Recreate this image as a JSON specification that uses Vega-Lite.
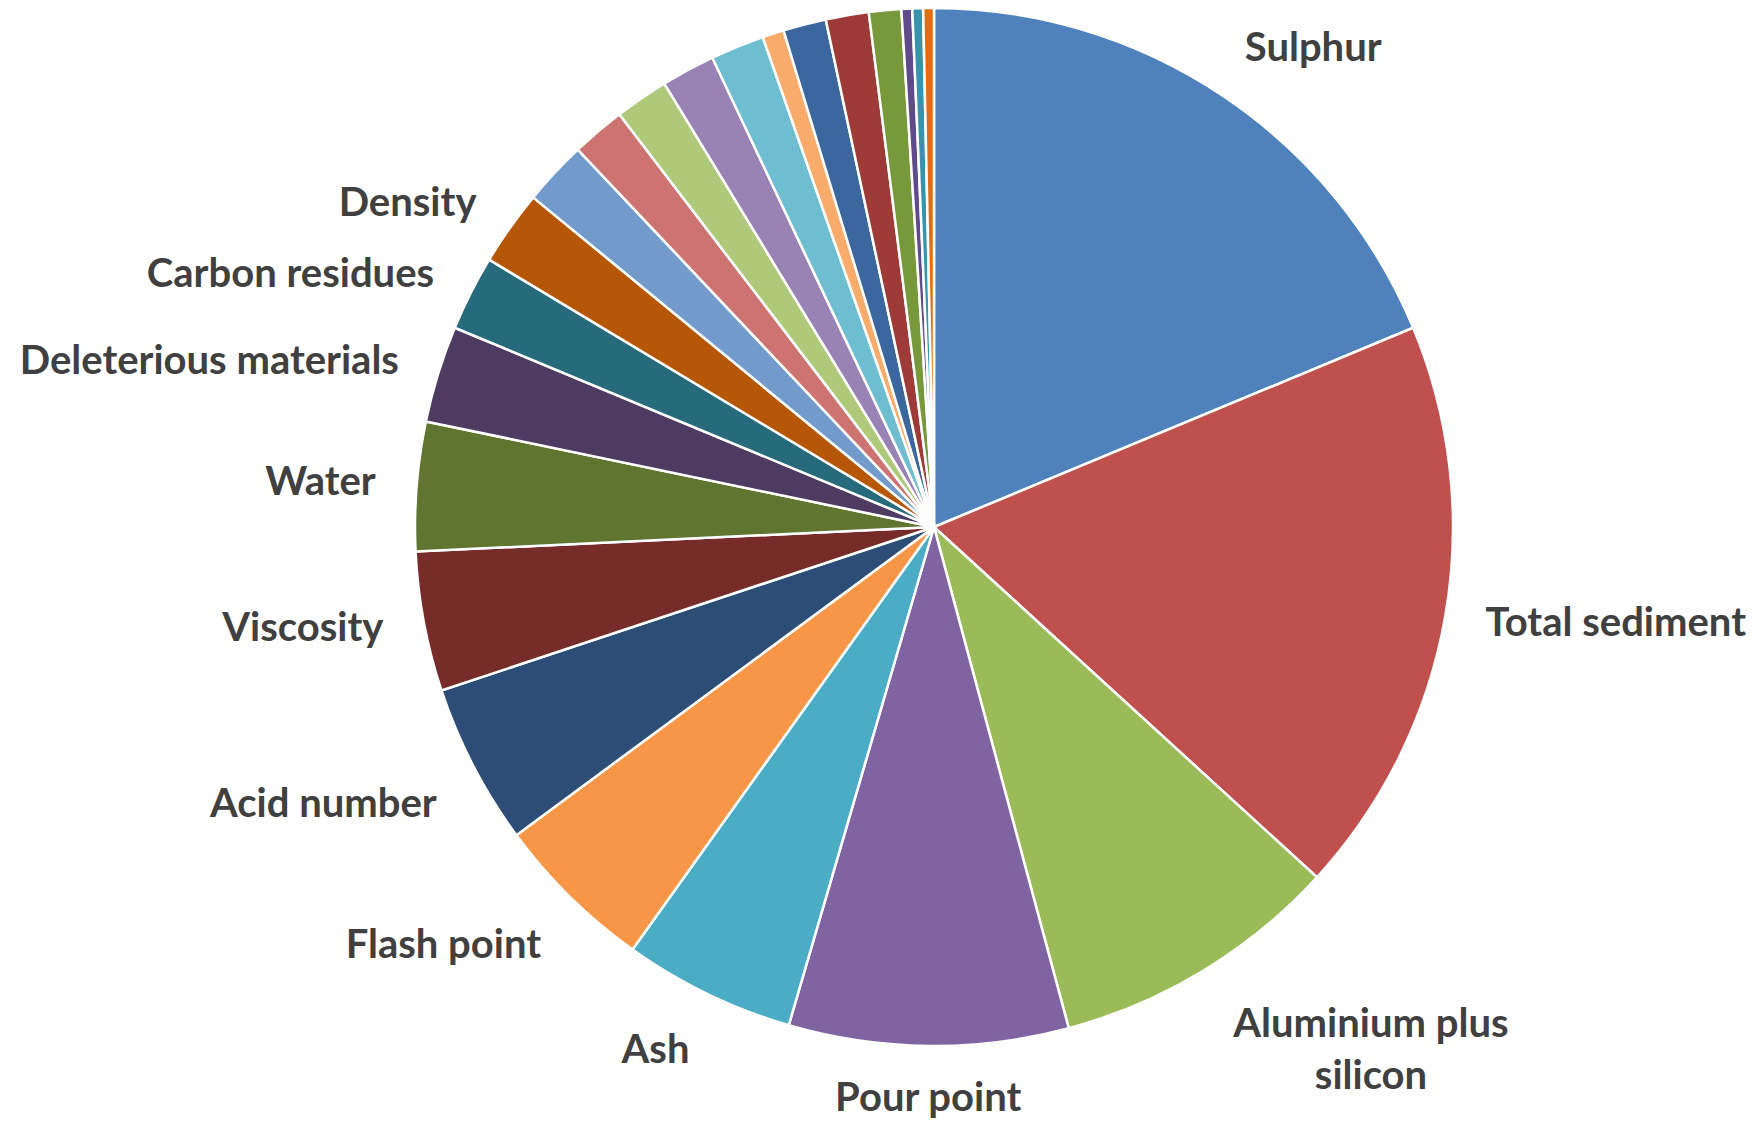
{
  "$schema": "https://vega.github.io/schema/vega-lite/v6.json",
  "width": 1038,
  "height": 1038,
  "autosize": {"type": "none"},
  "padding": {"left": 415, "top": 8, "right": 302, "bottom": 78},
  "background": "white",
  "config": {"view": {"stroke": null}},
  "data": {
    "values": [
      {"category": "Sulphur", "count": 56},
      {"category": "Total sediment", "count": 54},
      {"category": "Aluminium plus\nsilicon", "count": 27},
      {"category": "Pour point", "count": 26},
      {"category": "Ash", "count": 16},
      {"category": "Flash point", "count": 15},
      {"category": "Acid number", "count": 15},
      {"category": "Viscosity", "count": 13},
      {"category": "Water", "count": 12},
      {"category": "Deleterious materials", "count": 9},
      {"category": "Carbon residues", "count": 7},
      {"category": "Density", "count": 7},
      {"category": "Unlabelled 1", "count": 6},
      {"category": "Unlabelled 2", "count": 5},
      {"category": "Unlabelled 3", "count": 5},
      {"category": "Unlabelled 4", "count": 5},
      {"category": "Unlabelled 5", "count": 5},
      {"category": "Unlabelled 6", "count": 2},
      {"category": "Unlabelled 7", "count": 4},
      {"category": "Unlabelled 8", "count": 4},
      {"category": "Unlabelled 9", "count": 3},
      {"category": "Unlabelled 10", "count": 1},
      {"category": "Unlabelled 11", "count": 1},
      {"category": "Unlabelled 12", "count": 1}
    ]
  },
  "transform": [{"window": [{"op": "row_number", "as": "seq"}]}],
  "encoding": {
    "theta": {"field": "count", "type": "quantitative", "stack": true},
    "order": {"field": "seq", "type": "quantitative"}
  },
  "layer": [
    {
      "mark": {"type": "arc", "stroke": "white", "strokeWidth": 2.5},
      "encoding": {
        "color": {
          "field": "category",
          "type": "nominal",
          "legend": null,
          "scale": {
            "domain": ["Sulphur", "Total sediment", "Aluminium plus\nsilicon", "Pour point", "Ash", "Flash point", "Acid number", "Viscosity", "Water", "Deleterious materials", "Carbon residues", "Density", "Unlabelled 1", "Unlabelled 2", "Unlabelled 3", "Unlabelled 4", "Unlabelled 5", "Unlabelled 6", "Unlabelled 7", "Unlabelled 8", "Unlabelled 9", "Unlabelled 10", "Unlabelled 11", "Unlabelled 12"],
            "range": ["#4F81BD", "#C0504D", "#9BBB59", "#8064A2", "#4BACC6", "#F79646", "#2C4D75", "#772C2A", "#5F7530", "#4D3B62", "#276A7C", "#B65708", "#729ACA", "#CD7371", "#AFC97A", "#9983B5", "#6FBDD1", "#F9AB6B", "#3B679E", "#9E3A37", "#77993B", "#5F4B8B", "#3794AC", "#E46C0A"]
          }
        }
      }
    },
    {
      "mark": {"type": "text", "radius": 560, "align": "left", "baseline": "alphabetic", "font": "Lato", "fontWeight": "bold", "fontSize": 40, "fill": "#404040"},
      "encoding": {
        "text": {"condition": {"test": "datum.category === 'Sulphur'", "field": "category"}, "value": ""}
      }
    },
    {
      "mark": {"type": "text", "radius": 560, "align": "left", "baseline": "middle", "font": "Lato", "fontWeight": "bold", "fontSize": 40, "fill": "#404040"},
      "encoding": {
        "text": {"condition": {"test": "datum.category === 'Total sediment'", "field": "category"}, "value": ""}
      }
    },
    {
      "mark": {"type": "text", "radius": 560, "align": "center", "baseline": "top", "dx": 146, "lineBreak": "\n", "lineHeight": 52, "font": "Lato", "fontWeight": "bold", "fontSize": 40, "fill": "#404040"},
      "encoding": {
        "text": {"condition": {"test": "indexof(datum.category, 'Aluminium') === 0", "field": "category"}, "value": ""}
      }
    },
    {
      "mark": {"type": "text", "radius": 552, "align": "center", "baseline": "top", "font": "Lato", "fontWeight": "bold", "fontSize": 40, "fill": "#404040"},
      "encoding": {
        "text": {"condition": {"test": "datum.category === 'Pour point'", "field": "category"}, "value": ""}
      }
    },
    {
      "mark": {"type": "text", "radius": 560, "align": "right", "baseline": "top", "font": "Lato", "fontWeight": "bold", "fontSize": 40, "fill": "#404040"},
      "encoding": {
        "text": {"condition": {"test": "indexof(['Ash', 'Flash point', 'Acid number'], datum.category) >= 0", "field": "category"}, "value": ""}
      }
    },
    {
      "mark": {"type": "text", "radius": 560, "align": "right", "baseline": "middle", "font": "Lato", "fontWeight": "bold", "fontSize": 40, "fill": "#404040"},
      "encoding": {
        "text": {"condition": {"test": "indexof(['Viscosity', 'Water', 'Deleterious materials', 'Carbon residues', 'Density'], datum.category) >= 0", "field": "category"}, "value": ""}
      }
    }
  ]
}
